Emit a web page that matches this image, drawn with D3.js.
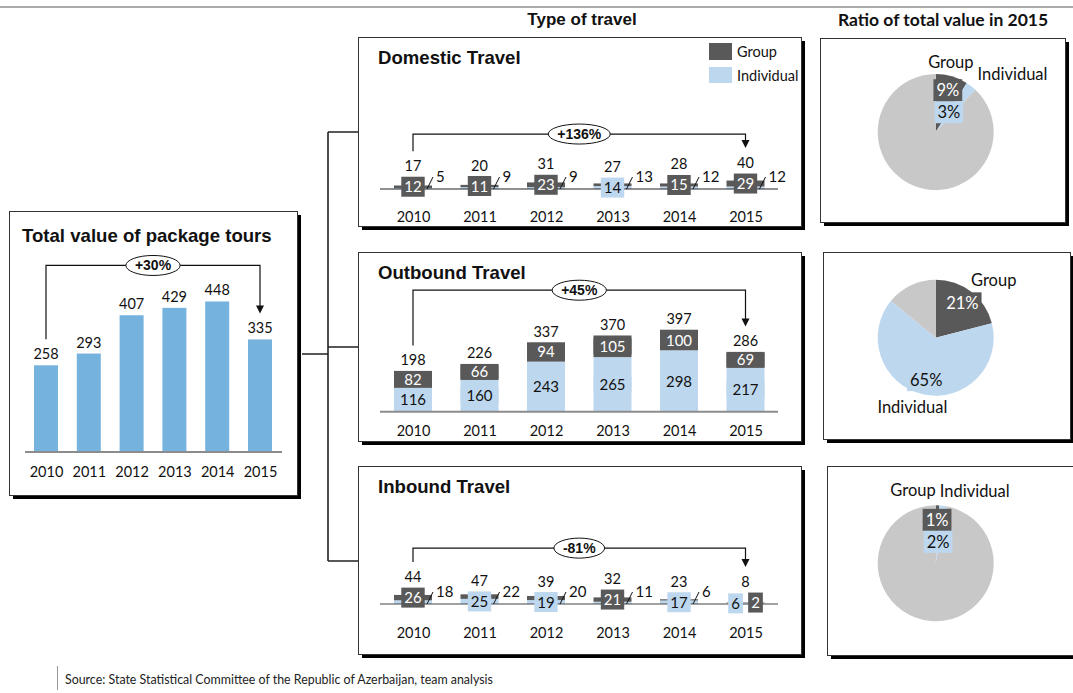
<!DOCTYPE html>
<html>
<head>
<meta charset="utf-8">
<script src="https://cdn.jsdelivr.net/npm/d3@7/dist/d3.min.js"></script>
<style>
  body { margin: 0; background: #fff; }
  svg { display: block; }
</style>
</head>
<body>
<svg id="chart" width="1073" height="693"></svg>
<script>
// ---- data ----
const years = ["2010", "2011", "2012", "2013", "2014", "2015"];

const totalValue = [258, 293, 407, 429, 448, 335];
const totalChange = "+30%";

const domesticGroup = [12, 11, 23, 13, 15, 29];
const domesticIndividual = [5, 9, 9, 14, 12, 12];
const domesticTotal = [17, 20, 31, 27, 28, 40];
const domesticChange = "+136%";

const outboundGroup = [82, 66, 94, 105, 100, 69];
const outboundIndividual = [116, 160, 243, 265, 298, 217];
const outboundTotal = [198, 226, 337, 370, 397, 286];
const outboundChange = "+45%";

const inboundGroup = [26, 22, 20, 21, 6, 2];
const inboundIndividual = [18, 25, 19, 11, 17, 6];
const inboundTotal = [44, 47, 39, 32, 23, 8];
const inboundChange = "-81%";

const seriesNames = ["Group", "Individual"];
const domesticShare = [9, 3];
const outboundShare = [21, 65];
const inboundShare = [1, 2];

const sourceNote = "Source: State Statistical Committee of the Republic of Azerbaijan, team analysis";

// ---- styling ----
const C = { dark: "#595959", light: "#bdd7ee", bar: "#75b2de", rest: "#c8c8c8", ink: "#111" };
const NUM = 'Lato, "Open Sans", sans-serif';
const HEAD = '"Liberation Sans", Arial, sans-serif';
const TITLE = 18.6;

const svg = d3.select("#chart");

function txt(g, x, y, s, o = {}) {
  return g.append("text")
    .attr("x", x).attr("y", y).text(s)
    .attr("font-family", o.family || NUM)
    .attr("font-size", o.size || 14.5)
    .attr("font-weight", o.weight || "normal")
    .attr("fill", o.fill || C.ink)
    .attr("text-anchor", o.anchor || "start");
}

// white framed box with a solid drop shadow to the lower right
function panel(x, y, w, h) {
  svg.append("rect").attr("x", x + 4).attr("y", y + 4).attr("width", w).attr("height", h).attr("fill", "#000");
  svg.append("rect").attr("x", x + 0.5).attr("y", y + 0.5).attr("width", w).attr("height", h)
    .attr("fill", "#fff").attr("stroke", "#333").attr("stroke-width", 1);
}

// growth bracket from the first to the last bar, with the change in an oval
function bracket(g, x1, x2, yTop, yStart, yTip, label) {
  g.append("path").attr("d", `M${x1},${yStart}V${yTop}H${x2}V${yTip - 7}`)
    .attr("fill", "none").attr("stroke", "#111").attr("stroke-width", 1.2);
  g.append("path").attr("d", `M${x2 - 4},${yTip - 8}L${x2 + 4},${yTip - 8}L${x2},${yTip}Z`).attr("fill", "#111");
  const xm = (x1 + x2) / 2;
  const e = g.append("ellipse").attr("cx", xm).attr("cy", yTop).attr("ry", 10)
    .attr("fill", "#fff").attr("stroke", "#111").attr("stroke-width", 1);
  const t = txt(g, xm, yTop + 5, label, { family: HEAD, size: 14, weight: "bold", anchor: "middle" });
  e.attr("rx", t.node().getComputedTextLength() / 2 + 9);
}

function yearAxis(g, x, baseline) {
  const a = g.append("g").attr("transform", `translate(0,${baseline - 10})`)
    .call(d3.axisBottom(x).tickSize(0).tickPadding(0));
  a.select(".domain").remove();
  a.selectAll("text").attr("font-family", NUM).attr("font-size", 14.5).attr("fill", C.ink);
}

// ---- header rule and titles ----
svg.append("path").attr("d", "M0,7H1073").attr("stroke", "#aaa").attr("stroke-width", 2);
txt(svg, 582, 25, "Type of travel", { family: HEAD, size: 17, weight: "bold", anchor: "middle" });
txt(svg, 943, 26, "Ratio of total value in 2015", { size: 17.5, weight: "bold", anchor: "middle" });

// ---- tree connectors ----
svg.append("path")
  .attr("d", "M302,354H328M328,132V561M328,132H358M328,347H358M328,561H358")
  .attr("fill", "none").attr("stroke", "#222").attr("stroke-width", 1.6);

// ---- total value panel ----
(function () {
  panel(9, 211, 288, 284);
  const g = svg.append("g");
  txt(g, 22, 242, "Total value of package tours", { family: HEAD, size: TITLE, weight: "bold" });
  const x = d3.scalePoint().domain(years).range([46, 260]);
  const h = d3.scaleLinear().domain([0, 500]).range([0, 168]);
  const base = 452, bw = 24;
  g.selectAll("rect.bar").data(totalValue).join("rect").attr("class", "bar")
    .attr("x", (d, i) => x(years[i]) - bw / 2).attr("width", bw)
    .attr("y", d => base - h(d)).attr("height", d => h(d)).attr("fill", C.bar);
  g.append("path").attr("d", `M25,${base}H282`).attr("stroke", "#8c8c8c").attr("stroke-width", 1.8);
  const tops = [];
  totalValue.forEach((d, i) => {
    const yb = base - h(d) - 6;
    txt(g, x(years[i]), yb, d, { anchor: "middle" });
    tops.push(yb - 10);
  });
  yearAxis(g, x, 477);
  bracket(g, x(years[0]), x(years[5]), d3.min(tops) - 20, tops[0] - 10, tops[5] - 10, totalChange);
})();

// ---- travel type panels (stacked group / individual) ----
function typePanel(cfg) {
  const { top, bottom, title, group, individual, total, change, axisY, yearY, outside, boxH, boxFull } = cfg;
  panel(358, top, 443, bottom - top);
  const g = svg.append("g");
  txt(g, 378, top + 27, title, { family: HEAD, size: TITLE, weight: "bold" });

  const x = d3.scalePoint().domain(years).range([413, 745.5]);
  const h = d3.scaleLinear().domain([0, 400]).range([0, 82.4]);
  const bw = 38;
  const rows = years.map((yr, i) => {
    const r = { year: yr, grp: group[i], ind: individual[i], tot: total[i], mode: outside ? outside[i] : null };
    r.cx = x(yr); r.hi = h(r.ind); r.hg = h(r.grp);
    r.top = axisY - r.hi - r.hg;
    r.cInd = axisY - r.hi / 2;
    r.cGrp = axisY - r.hi - r.hg / 2;
    return r;
  });

  g.selectAll("rect.ind").data(rows).join("rect").attr("class", "ind")
    .attr("x", r => r.cx - bw / 2).attr("width", bw)
    .attr("y", r => axisY - r.hi).attr("height", r => r.hi).attr("fill", C.light);
  g.selectAll("rect.grp").data(rows).join("rect").attr("class", "grp")
    .attr("x", r => r.cx - bw / 2).attr("width", bw)
    .attr("y", r => r.top).attr("height", r => r.hg).attr("fill", C.dark);
  g.append("path").attr("d", `M380,${axisY}H778`).attr("stroke", cfg.axisColor).attr("stroke-width", cfg.axisWidth);

  const tops = [];
  rows.forEach(r => {
    let minTop = r.top;
    const put = (val, cx, cy, fill, color) => {
      const b = g.append("rect").attr("fill", fill);
      const t = txt(g, cx, cy + 5.5, val, { size: 15, anchor: "middle", fill: color });
      const w = boxFull ? bw : t.node().getComputedTextLength() + 6;
      b.attr("x", cx - w / 2).attr("width", w).attr("y", cy - boxH / 2).attr("height", boxH);
      minTop = Math.min(minTop, cy - boxH / 2);
    };
    const side = val => {
      g.append("path").attr("d", `M${r.cx + 14},${axisY}L${r.cx + 20},${axisY - 12}`)
        .attr("stroke", "#111").attr("stroke-width", 1);
      txt(g, r.cx + 23, axisY - 7.5, val, { size: 15 });
    };
    if (r.mode === "ind") { put(r.grp, r.cx, r.cGrp, C.dark, "#fff"); side(r.ind); }
    else if (r.mode === "grp") { put(r.ind, r.cx, r.cInd, C.light, C.ink); side(r.grp); }
    else if (r.mode === "split") { put(r.ind, r.cx - 10, r.cInd, C.light, C.ink); put(r.grp, r.cx + 10, r.cGrp, C.dark, "#fff"); }
    else { put(r.ind, r.cx, r.cInd, C.light, C.ink); put(r.grp, r.cx, r.cGrp, C.dark, "#fff"); }
    const yb = minTop - 5.5;
    txt(g, r.cx, yb, r.tot, { anchor: "middle" });
    tops.push(yb - 10);
  });

  yearAxis(g, x, yearY);
  bracket(g, x(years[0]), x(years[5]), d3.min(tops) - 24, tops[0] - 10, tops[5] - 10, change);

  if (cfg.legend) {
    g.append("rect").attr("x", 709).attr("y", 43).attr("width", 23).attr("height", 17).attr("fill", C.dark);
    g.append("rect").attr("x", 709).attr("y", 67).attr("width", 23).attr("height", 16).attr("fill", C.light);
    txt(g, 737, 57, seriesNames[0]);
    txt(g, 737, 81, seriesNames[1]);
  }
}

typePanel({
  top: 37, bottom: 226, title: "Domestic Travel", legend: true,
  group: domesticGroup, individual: domesticIndividual, total: domesticTotal, change: domesticChange,
  axisY: 189, yearY: 222, boxH: 20, boxFull: false, axisColor: "#222", axisWidth: 1.2,
  outside: ["ind", "ind", "ind", "grp", "ind", "ind"]
});
typePanel({
  top: 252, bottom: 441, title: "Outbound Travel",
  group: outboundGroup, individual: outboundIndividual, total: outboundTotal, change: outboundChange,
  axisY: 411.7, yearY: 436, boxH: 16, boxFull: true, axisColor: "#8c8c8c", axisWidth: 2,
  outside: null
});
typePanel({
  top: 466, bottom: 654, title: "Inbound Travel",
  group: inboundGroup, individual: inboundIndividual, total: inboundTotal, change: inboundChange,
  axisY: 604, yearY: 637.5, boxH: 20, boxFull: false, axisColor: "#444", axisWidth: 1.2,
  outside: ["ind", "grp", "grp", "ind", "grp", "split"]
});

// ---- share pies ----
function piePanel(box, cx, cy, share) {
  panel(box[0], box[1], box[2], box[3]);
  const g = svg.append("g");
  const r = 58;
  const data = [
    { k: seriesNames[0], v: share[0], fill: C.dark, ink: "#fff" },
    { k: seriesNames[1], v: share[1], fill: C.light, ink: C.ink },
    { k: null, v: 100 - share[0] - share[1], fill: C.rest }
  ];
  const arcs = d3.pie().sort(null).value(d => d.v)(data);
  const arc = d3.arc().innerRadius(0).outerRadius(r);
  g.selectAll("path").data(arcs).join("path")
    .attr("transform", `translate(${cx},${cy})`).attr("d", arc).attr("fill", d => d.data.fill);

  // percentage labels, stacked when they would collide
  let prev = null;
  arcs.slice(0, 2).forEach(a => {
    const m = (a.startAngle + a.endAngle) / 2;
    let px = cx + Math.sin(m) * r * 0.75, py = cy - Math.cos(m) * r * 0.75;
    const b = g.append("rect").attr("fill", a.data.fill);
    const t = txt(g, 0, 0, a.data.v + "%", { size: 16.5, anchor: "middle", fill: a.data.ink });
    const w = t.node().getComputedTextLength() + 6, hh = 22;
    if (prev && Math.abs(px - prev.x) < (w + prev.w) / 2 && Math.abs(py - prev.y) < hh) {
      px = prev.x + 1; py = prev.y + hh;
    }
    b.attr("x", px - w / 2).attr("y", py - hh / 2).attr("width", w).attr("height", hh);
    t.attr("x", px).attr("y", py + 6);
    prev = { x: px, y: py, w };
  });

  // series name labels outside the pie
  const names = arcs.slice(0, 2).map(a => {
    const m = (a.startAngle + a.endAngle) / 2;
    const px = cx + Math.sin(m) * (r + 14), py = cy - Math.cos(m) * (r + 14);
    const t = txt(g, 0, py + 5, a.data.k, { size: 16.5 });
    const w = t.node().getComputedTextLength();
    return { t, w, c: px + (w / 2) * Math.sin(m) };
  }).sort((p, q) => p.c - q.c);
  const o = names[0].c + names[0].w / 2 + 4 - (names[1].c - names[1].w / 2);
  if (o > 0) { names[0].c -= o / 2; names[1].c += o / 2; }
  names.forEach(n => n.t.attr("x", n.c - n.w / 2));
}

piePanel([820, 38, 245, 184], 935.7, 132, domesticShare);
piePanel([823, 252, 247, 187], 935.7, 337.7, outboundShare);
piePanel([827, 466, 250, 189], 935.7, 563.3, inboundShare);

// ---- source note ----
svg.append("path").attr("d", "M57.5,666V690").attr("stroke", "#999").attr("stroke-width", 1);
txt(svg, 65, 684, sourceNote, { size: 12.4, fill: "#222" });
</script>
</body>
</html>
